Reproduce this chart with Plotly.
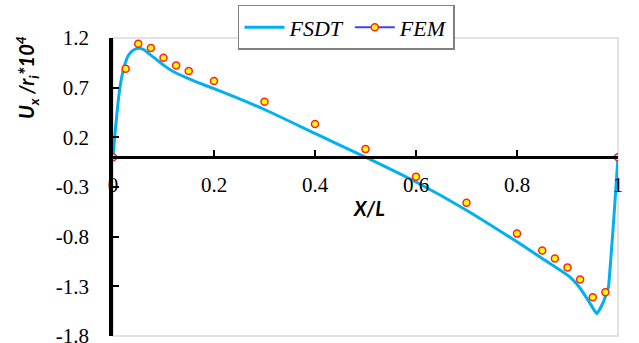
import plotly.graph_objects as go

# FSDT curve
fsdt_x = [0, 0.004, 0.0105, 0.017, 0.024, 0.03, 0.037, 0.045, 0.052, 0.06, 0.073, 0.1,
          0.12, 0.143, 0.166, 0.2, 0.3, 0.4, 0.5, 0.6, 0.7, 0.8, 0.85, 0.905,
          0.925, 0.945, 0.958, 0.971, 0.981, 0.985, 0.99, 0.995, 1.0]
fsdt_y = [0, 0.24, 0.575, 0.80, 0.944, 1.02, 1.065, 1.09, 1.096, 1.085, 1.035, 0.927,
          0.86, 0.805, 0.755, 0.69, 0.48, 0.239, 0.0, -0.25, -0.534, -0.853, -1.02, -1.207,
          -1.32, -1.475, -1.576, -1.46, -1.31, -1.07, -0.74, -0.37, 0]

# FEM points
fem_x = [0, 0.025, 0.05, 0.075, 0.1, 0.125, 0.15, 0.2, 0.3, 0.4, 0.5, 0.6, 0.7,
         0.8, 0.85, 0.875, 0.9, 0.925, 0.95, 0.975, 1.0]
fem_y = [0, 0.89, 1.142, 1.099, 1.0, 0.924, 0.867, 0.766, 0.557, 0.333, 0.081, -0.198, -0.46,
         -0.77, -0.94, -1.02, -1.11, -1.233, -1.41, -1.36, 0]

x_ticks = [0, 0.2, 0.4, 0.6, 0.8, 1]
x_ticklabels = ["0", "0.2", "0.4", "0.6", "0.8", "1"]
y_ticks = [1.2, 0.7, 0.2, -0.3, -0.8, -1.3, -1.8]
y_ticklabels = ["1.2", "0.7", "0.2", "-0.3", "-0.8", "-1.3", "-1.8"]

SERIF = "Liberation Serif, DejaVu Serif, Times New Roman, serif"

fig = go.Figure()
fig.add_trace(go.Scatter(x=fsdt_x, y=fsdt_y, mode="lines", name="FSDT",
                         line=dict(color="#00B0F0", width=3, shape="spline", smoothing=0.4)))
fig.add_trace(go.Scatter(x=fem_x, y=fem_y, mode="markers", name="FEM", showlegend=False,
                         marker=dict(size=7, color="#FFFF00", line=dict(color="#FF2020", width=1.5))))
# legend entry for FEM (line + marker)
fig.add_trace(go.Scatter(x=[None], y=[None], mode="lines+markers", name="FEM",
                         line=dict(color="#4040FF", width=2),
                         marker=dict(size=7, color="#FFFF00", line=dict(color="#FF2020", width=1.5))))

# light gray frame
fig.add_shape(type="rect", xref="x domain", yref="y domain", x0=0, x1=1, y0=0, y1=1,
              line=dict(color="#D9D9D9", width=1.5), layer="below")

fig.update_layout(
    width=639, height=343,
    margin=dict(l=113, r=21, t=38, b=7, autoexpand=False),
    plot_bgcolor="white", paper_bgcolor="white",
    showlegend=True,
    legend=dict(orientation="h", x=0.2475, y=1.111, xanchor="left", yanchor="top",
                bordercolor="#7F7F7F", borderwidth=1.5, bgcolor="white",
                font=dict(family=SERIF, size=22, color="black", style="italic"),
                itemwidth=40, tracegroupgap=0),
    xaxis=dict(range=[0, 1], anchor="free", position=0.6, showgrid=False, zeroline=False,
               showline=True, linecolor="black", linewidth=3, automargin=False,
               tickmode="array", tickvals=x_ticks, ticktext=x_ticklabels,
               ticks="inside", ticklen=6, tickwidth=2, tickcolor="black",
               ticklabelstandoff=8, ticklabeloverflow="allow",
               tickfont=dict(family=SERIF, size=21, color="black")),
    yaxis=dict(range=[-1.801, 1.2], domain=[0, 1], showgrid=False, zeroline=False,
               showline=True, linecolor="black", linewidth=3.5, automargin=False,
               tickmode="array", tickvals=y_ticks, ticktext=y_ticklabels,
               ticks="inside", ticklen=6, tickwidth=2, tickcolor="black",
               ticklabelstandoff=16, ticklabeloverflow="allow",
               tickfont=dict(family=SERIF, size=21, color="black")),
)

fig.add_annotation(text="<b><i>U<sub>x</sub> /r<sub>i</sub>*10<sup>4</sup></i></b>",
                   xref="paper", yref="paper", x=(27 - 113) / 505, y=1 - (78 - 38) / 297.7,
                   xanchor="center", yanchor="middle", textangle=-90, showarrow=False,
                   font=dict(family="Lato", size=20, color="black"))
fig.add_annotation(text="<b><i>X/L</i></b>",
                   xref="paper", yref="paper", x=(369 - 113) / 505, y=1 - (208 - 38) / 297.7,
                   xanchor="center", yanchor="middle", showarrow=False,
                   font=dict(family="Lato", size=20, color="black"))

fig.write_html("out.html")
